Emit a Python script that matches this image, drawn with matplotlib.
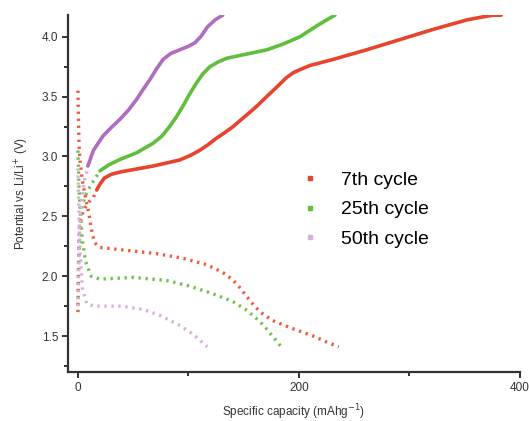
import matplotlib
matplotlib.use("Agg")
import matplotlib.pyplot as plt
from matplotlib.ticker import MultipleLocator

plt.rcParams['font.family'] = ['Liberation Sans', 'DejaVu Sans']

# 7th cycle
red_dis_x = [0, 0.5, 1, 2, 4, 7, 10, 12, 15, 20, 40, 70, 95, 115, 125, 133, 140, 146, 152, 158, 165, 176, 195, 213, 225, 236]
red_dis_y = [3.55, 3.3, 3.1, 2.95, 2.8, 2.65, 2.52, 2.4, 2.28, 2.24, 2.22, 2.19, 2.15, 2.10, 2.06, 2.02, 1.97, 1.91, 1.84, 1.77, 1.70, 1.63, 1.56, 1.50, 1.45, 1.41]
red_ch_x = [0, 0.5, 1, 2, 5, 10, 14, 17, 20, 24, 30, 38, 50, 68, 80, 92, 102, 110, 118, 125, 133, 140.5, 148, 155.7, 163, 170.8, 180, 188.9, 195, 200.9, 210, 230.8, 261, 291, 321, 351.8, 366, 375.8, 383]
red_ch_y = [1.70, 2.0, 2.3, 2.45, 2.55, 2.62, 2.66, 2.72, 2.77, 2.82, 2.85, 2.87, 2.89, 2.92, 2.945, 2.97, 3.01, 3.05, 3.10, 3.15, 3.20, 3.25, 3.31, 3.37, 3.43, 3.50, 3.58, 3.66, 3.70, 3.725, 3.76, 3.81, 3.89, 3.975, 4.06, 4.14, 4.165, 4.18, 4.18]

# 25th cycle
green_dis_x = [0, 0.5, 1, 2, 4, 7, 12, 20, 50, 80, 100, 120, 140, 152, 160, 168, 176, 184]
green_dis_y = [3.05, 2.9, 2.75, 2.55, 2.3, 2.12, 2.0, 1.975, 1.99, 1.965, 1.92, 1.86, 1.79, 1.72, 1.66, 1.59, 1.50, 1.41]
green_ch_x = [0, 0.5, 1.5, 4, 8, 13, 20, 28, 38, 53, 68, 76, 83, 89, 95, 101, 107, 113, 119.5, 127, 134.6, 150, 170.8, 186, 201, 216, 225, 232.6]
green_ch_y = [1.75, 2.1, 2.4, 2.6, 2.7, 2.78, 2.88, 2.93, 2.975, 3.03, 3.11, 3.17, 3.25, 3.33, 3.42, 3.52, 3.61, 3.69, 3.75, 3.79, 3.82, 3.85, 3.89, 3.94, 4.0, 4.09, 4.14, 4.18]

# 50th cycle
purple_dis_x = [0, 0.5, 1, 2, 4, 8, 15, 40, 60, 75, 92, 105, 117]
purple_dis_y = [2.9, 2.7, 2.5, 2.2, 1.9, 1.77, 1.75, 1.75, 1.72, 1.67, 1.59, 1.51, 1.41]
purple_ch_x = [0, 0.5, 1, 3, 6, 9, 14, 22.6, 30, 38, 46, 53, 59, 65, 71, 77, 84, 92, 100, 106, 112, 117, 124, 131]
purple_ch_y = [1.75, 2.1, 2.4, 2.6, 2.8, 2.92, 3.05, 3.17, 3.24, 3.31, 3.39, 3.475, 3.56, 3.64, 3.73, 3.81, 3.86, 3.89, 3.92, 3.95, 4.01, 4.08, 4.14, 4.18]

labels = ['7th cycle', '25th cycle', '50th cycle']
split_x = [17, 20, 9]

line_cols = ['#e8432c', '#5fbf3c', '#b06cc0']
dot_cols = ['#ee5a3c', '#6cc24a', '#d8b0dc']

fig = plt.figure(figsize=(5.29, 4.21), dpi=100)
ax = fig.add_axes([0.1285, 0.1164, 0.8545, 0.8476])

series = [
    (red_dis_x, red_dis_y, red_ch_x, red_ch_y),
    (green_dis_x, green_dis_y, green_ch_x, green_ch_y),
    (purple_dis_x, purple_dis_y, purple_ch_x, purple_ch_y),
]

for i, (dx, dy, cx, cy) in enumerate(series):
    ax.plot(dx, dy, color=dot_cols[i], lw=2.4, ls=(0, (0.7, 1.4)),
            dash_capstyle='butt', zorder=2)
    k = cx.index(split_x[i])
    ax.plot(cx[:k + 1], cy[:k + 1], color=dot_cols[i], lw=2.4,
            ls=(0, (0.7, 1.4)), dash_capstyle='butt', zorder=2)
    ax.plot(cx[k:], cy[k:], color=line_cols[i], lw=2.6,
            solid_capstyle='round', solid_joinstyle='round', zorder=3)
    ax.plot([], [], ls='none', marker='s', ms=2.2,
            color=dot_cols[i] if i == 2 else line_cols[i], label=labels[i])

ax.set_xlim(-9, 400)
ax.set_ylim(1.2, 4.18)

ax.xaxis.set_major_locator(MultipleLocator(200))
ax.xaxis.set_minor_locator(MultipleLocator(100))
ax.yaxis.set_major_locator(MultipleLocator(0.5))
ax.yaxis.set_minor_locator(MultipleLocator(0.25))
ax.yaxis.set_major_formatter(matplotlib.ticker.FormatStrFormatter('%.1f'))

for s in ['top', 'right']:
    ax.spines[s].set_visible(False)
for s in ['left', 'bottom']:
    ax.spines[s].set_linewidth(1.6)
    ax.spines[s].set_color('#333333')

ax.tick_params(which='major', length=4, width=1.4, color='#333333',
               labelsize=8.5, labelcolor='#333333', pad=3)
ax.tick_params(which='minor', length=3, width=1.4, color='#333333')

ax.set_xlabel('Specific capacity (mAhg$^{-1}$)', fontsize=8.5, color='#333333', labelpad=6)
ax.set_ylabel('Potential vs Li/Li$^{+}$ (V)', fontsize=8.5, color='#333333', labelpad=8)

ax.legend(loc='upper left', bbox_to_anchor=(0.493, 0.59), frameon=False,
          fontsize=14, handlelength=1.0, handletextpad=1.1, labelspacing=0.62,
          markerscale=1.0, borderpad=0)

fig.savefig('out.png', dpi=100)
